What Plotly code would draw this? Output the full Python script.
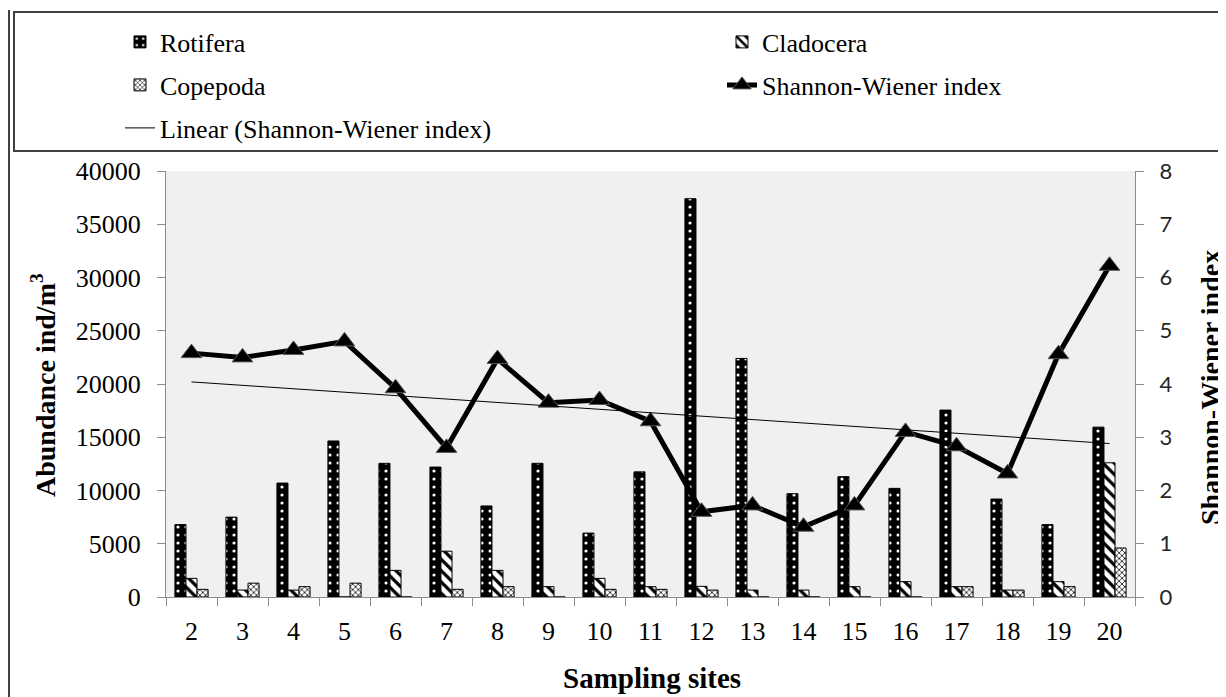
import numpy as np
import plotly.graph_objects as go

sites = [str(s) for s in range(2, 21)]
rotifera = [6800, 7500, 10700, 14650, 12550, 12200, 8550, 12550, 6000, 11750,
            37400, 22400, 9700, 11300, 10200, 17550, 9200, 6800, 15950]
cladocera = [1750, 650, 650, 0, 2500, 4300, 2500, 970, 1750, 970,
             1000, 650, 650, 970, 1440, 970, 650, 1440, 12600]
copepoda = [720, 1300, 970, 1300, 0, 720, 970, 0, 720, 720,
            650, 0, 0, 0, 0, 970, 650, 970, 4600]
shannon = [4.58, 4.5, 4.64, 4.8, 3.92, 2.8, 4.47, 3.65, 3.7, 3.3,
           1.6, 1.72, 1.32, 1.72, 3.1, 2.83, 2.32, 4.56, 6.22]

# linear trend of Shannon-Wiener index (like Excel's linear trendline)
idx = np.arange(1, len(sites) + 1)
slope, intercept = np.polyfit(idx, shannon, 1)
trend = slope * idx + intercept

SERIF = "Liberation Serif"
fig = go.Figure()

fig.add_trace(go.Bar(
    x=sites, y=rotifera, name="Rotifera", legend="legend",
    marker=dict(color="black", line=dict(color="black", width=1),
                pattern=dict(shape=".", fgcolor="white", bgcolor="black",
                             size=8, solidity=0.12, fillmode="replace")),
))
fig.add_trace(go.Bar(
    x=sites, y=cladocera, name="Cladocera", legend="legend2",
    marker=dict(color="white", line=dict(color="black", width=1),
                pattern=dict(shape="\\", fgcolor="black", bgcolor="white",
                             size=8, solidity=0.4, fillmode="replace")),
))
fig.add_trace(go.Bar(
    x=sites, y=copepoda, name="Copepoda", legend="legend3",
    marker=dict(color="white", line=dict(color="black", width=1),
                pattern=dict(shape="x", fgcolor="black", bgcolor="white",
                             size=4, solidity=0.35, fillmode="replace")),
))
fig.add_trace(go.Scatter(
    x=sites, y=shannon, name="Shannon-Wiener index", yaxis="y2", legend="legend4",
    mode="lines+markers",
    line=dict(color="black", width=5),
    marker=dict(symbol="triangle-up", size=18, color="black",
                line=dict(color="#555555", width=1)),
))
fig.add_trace(go.Scatter(
    x=sites, y=trend, name="Linear (Shannon-Wiener index)", yaxis="y2",
    legend="legend5", mode="lines", line=dict(color="black", width=1),
))

# The page body adds an 8px offset; the figure is sized so that the page
# coordinates below match the 1226x697 window.
OFF = 8
W, H = 1226 - OFF, 697 - OFF
PL, PR, PT, PB = 166, 1135, 171, 597   # plot area in page pixels
L, T = PL - OFF, PT - OFF
R, B = (W + OFF) - PR, (H + OFF) - PB
pw, ph = PR - PL, PB - PT


def px(x):
    return (x - PL) / pw


def py(y):
    return (PB - y) / ph


legfont = dict(family=SERIF, size=26, color="black")
common = dict(orientation="v", xanchor="left", yanchor="middle", font=legfont,
              bgcolor="rgba(0,0,0,0)", borderwidth=0)
tickfont = dict(family=SERIF, size=26, color="black")

fig.update_layout(
    width=W, height=H,
    margin=dict(l=L, r=R, t=T, b=B, autoexpand=False),
    paper_bgcolor="white", plot_bgcolor="#f0f0f0",
    barmode="group", bargap=0.35, bargroupgap=0,
    showlegend=True,
    legend=dict(x=px(120), y=py(42), **common),
    legend2=dict(x=px(722), y=py(42), **common),
    legend3=dict(x=px(120), y=py(85), **common),
    legend4=dict(x=px(722), y=py(85), **common),
    legend5=dict(x=px(120), y=py(128), **common),
    xaxis=dict(type="category", range=[-0.5, len(sites) - 0.5],
               tickson="boundaries", ticks="outside", ticklen=8,
               tickcolor="#8c8c8c", showline=True, linecolor="#8c8c8c", linewidth=1,
               showgrid=False, tickfont=tickfont,
               ticklabelstandoff=11, zeroline=False),
    yaxis=dict(range=[0, 40000], dtick=5000, tickformat="d", ticks="outside",
               ticklen=8, tickcolor="#8c8c8c", showline=True, linecolor="#8c8c8c",
               linewidth=1, showgrid=False, zeroline=False, ticklabelstandoff=11,
               tickfont=tickfont),
    yaxis2=dict(range=[0, 8], dtick=1, overlaying="y", side="right", ticks="outside",
                ticklen=8, tickcolor="#8c8c8c", showline=True, linecolor="#8c8c8c",
                linewidth=1, showgrid=False, zeroline=False, ticklabelstandoff=11,
                tickfont=dict(family="Lato", size=22, color="#262626")),
    shapes=[
        dict(type="rect", xref="paper", yref="paper", x0=px(14), x1=px(1221),
             y0=py(151), y1=py(12), line=dict(color="#404040", width=2)),
        dict(type="line", xref="paper", yref="paper", x0=px(9), x1=px(9),
             y0=py(10), y1=py(697), line=dict(color="#404040", width=2)),
    ],
    annotations=[
        dict(text="<b>Abundance ind/m<sup>3</sup></b>", xref="paper", yref="paper",
             x=px(43), y=py(385), textangle=-90, showarrow=False,
             font=dict(family=SERIF, size=28, color="black"),
             xanchor="center", yanchor="middle"),
        dict(text="<b>Shannon-Wiener index</b>", xref="paper", yref="paper",
             x=px(1210), y=py(388), textangle=-90, showarrow=False,
             font=dict(family=SERIF, size=28, color="black"),
             xanchor="center", yanchor="middle"),
        dict(text="<b>Sampling sites</b>", xref="paper", yref="paper",
             x=px(652), y=py(678), showarrow=False,
             font=dict(family=SERIF, size=29, color="black"),
             xanchor="center", yanchor="middle"),
    ],
)

fig.write_html("out.html")
